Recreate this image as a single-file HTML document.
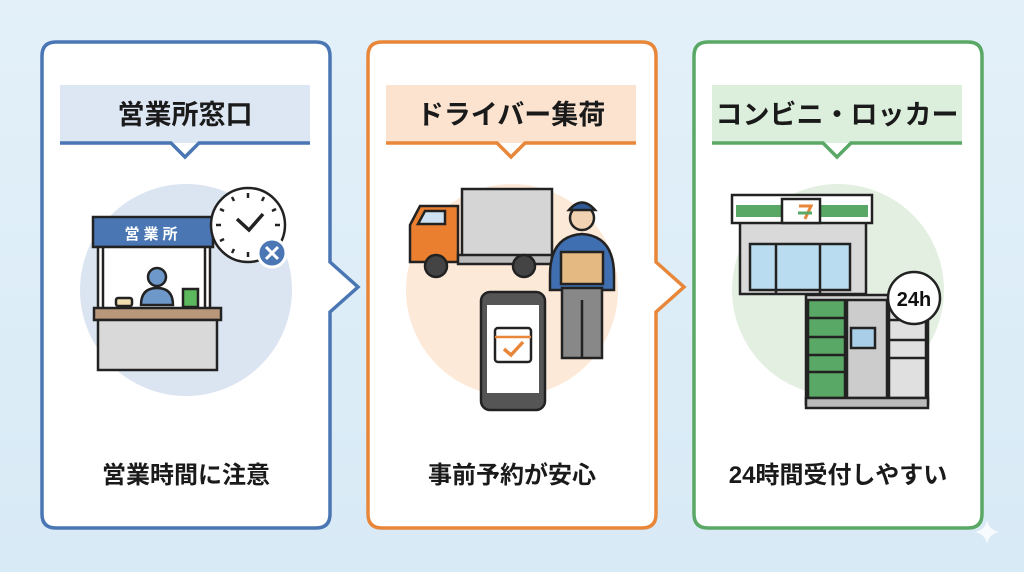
<!DOCTYPE html>
<html><head><meta charset="utf-8"><style>
html,body{margin:0;padding:0;width:1024px;height:572px;overflow:hidden;background:linear-gradient(180deg,#e3f0f9,#d8eaf6);}
svg text{font-family:"Liberation Sans","Noto Sans CJK JP",sans-serif;font-weight:bold;}
</style></head><body>
<svg width="1024" height="572" viewBox="0 0 1024 572" xmlns="http://www.w3.org/2000/svg">
<path d="M56 42 H316 Q330 42 330 56 V262 L358 287 L330 312 V514 Q330 528 316 528 H56 Q42 528 42 514 V56 Q42 42 56 42 Z" fill="#fff" stroke="#4a77b4" stroke-width="3.5"/>
<path d="M382 42 H642 Q656 42 656 56 V262 L684 287 L656 312 V514 Q656 528 642 528 H382 Q368 528 368 514 V56 Q368 42 382 42 Z" fill="#fff" stroke="#e8873a" stroke-width="3.5"/>
<path d="M708 42 H968 Q982 42 982 56 V514 Q982 528 968 528 H708 Q694 528 694 514 V56 Q694 42 708 42 Z" fill="#fff" stroke="#5aa865" stroke-width="3.5"/>
<circle cx="186" cy="290" r="106" fill="#dbe4f1"/>
<circle cx="512" cy="290" r="106" fill="#fde9d8"/>
<circle cx="838" cy="290" r="106" fill="#e3f0e1"/>
<rect x="60" y="85" width="250" height="58" fill="#dde6f3"/>
<path d="M60 143 H171 L185 157 L199 143 H310" fill="none" stroke="#4a77b4" stroke-width="3.5"/>
<text x="185" y="124" font-size="27" text-anchor="middle" fill="#1a1a1a">営業所窓口</text>
<rect x="386" y="85" width="250" height="58" fill="#fbe3d0"/>
<path d="M386 143 H497 L511 157 L525 143 H636" fill="none" stroke="#e8873a" stroke-width="3.5"/>
<text x="511" y="124" font-size="27" text-anchor="middle" fill="#1a1a1a">ドライバー集荷</text>
<rect x="712" y="85" width="250" height="58" fill="#dcefdc"/>
<path d="M712 143 H823 L837 157 L851 143 H962" fill="none" stroke="#5aa865" stroke-width="3.5"/>
<text x="837" y="124" font-size="27" text-anchor="middle" fill="#1a1a1a">コンビニ・ロッカー</text>
<text x="186" y="483" font-size="24" text-anchor="middle" fill="#1a1a1a">営業時間に注意</text>
<text x="512" y="483" font-size="24" text-anchor="middle" fill="#1a1a1a">事前予約が安心</text>
<text x="838" y="483" font-size="24" text-anchor="middle" fill="#1a1a1a">24時間受付しやすい</text>

<g stroke="#222" stroke-width="2.5">
<rect x="93" y="217" width="120" height="30" fill="#4a77b4"/>
<rect x="98" y="247" width="112" height="62" fill="#fff"/>
<line x1="103" y1="247" x2="103" y2="309"/><line x1="205" y1="247" x2="205" y2="309"/>
<circle cx="157" cy="277" r="9" fill="#6d98c9"/>
<path d="M141 305 Q141 288 157 288 Q173 288 173 305 Z" fill="#6d98c9"/>
<rect x="116" y="298" width="16" height="8" rx="2" fill="#f1ddb0"/>
<rect x="183" y="289" width="15" height="18" fill="#5cb85c"/>
<rect x="94" y="308" width="127" height="12" fill="#b8977a"/>
<rect x="98" y="320" width="119" height="50" fill="#d9d9d9"/>
<circle cx="248" cy="225" r="37" fill="#fff"/>
<polyline points="237,219 249,230 263,214" fill="none" stroke-width="3.5"/>
</g>
<g stroke="#222" stroke-width="2.5">
<line x1="248" y1="193" x2="248" y2="198"/><line x1="248" y1="252" x2="248" y2="257"/>
<line x1="216" y1="225" x2="221" y2="225"/><line x1="275" y1="225" x2="280" y2="225"/>
<line x1="232" y1="197" x2="234" y2="201"/><line x1="264" y1="197" x2="262" y2="201"/>
<line x1="220" y1="209" x2="224" y2="211"/><line x1="276" y1="209" x2="272" y2="211"/>
<line x1="220" y1="241" x2="224" y2="239"/><line x1="232" y1="253" x2="234" y2="249"/>
</g>
<circle cx="272" cy="253" r="14" fill="#4a77b4" stroke="#fff" stroke-width="3"/>
<text x="153" y="239" font-size="15" text-anchor="middle" fill="#fff" letter-spacing="4">営業所</text>
<path d="M266 247 L278 259 M278 247 L266 259" stroke="#fff" stroke-width="3"/>

<g stroke="#222" stroke-width="2.5">
<rect x="462" y="189" width="90" height="68" fill="#d5d5d5"/>
<path d="M410 225 L420 206 H458 V262 H410 Z" fill="#e97f2f"/>
<path d="M418 224 L425 211 H445 V224 Z" fill="#cfe2f3"/>
<rect x="458" y="255" width="94" height="9" fill="#bbb"/>
<circle cx="436" cy="266" r="11" fill="#444"/><circle cx="524" cy="266" r="11" fill="#444"/>
<circle cx="582" cy="218" r="12" fill="#f1d3b3"/>
<path d="M569 210 Q582 195 595 210 Z" fill="#2f5a96"/>
<path d="M550 275 Q550 236 582 234 Q614 236 614 275 V290 H550 Z" fill="#3f6fb0"/>
<rect x="562" y="288" width="40" height="70" fill="#888"/>
<line x1="582" y1="300" x2="582" y2="358"/>
<rect x="561" y="252" width="42" height="32" fill="#e5b982"/>
<rect x="481" y="292" width="64" height="118" rx="9" fill="#555"/>
<rect x="487" y="305" width="52" height="88" fill="#fff" stroke="none"/>
<rect x="495" y="328" width="36" height="34" rx="3" fill="#fff"/>
<line x1="495" y1="337" x2="531" y2="337" stroke="#e8873a"/>
</g>
<polyline points="504,349 511,355 523,342" fill="none" stroke="#e8873a" stroke-width="3.5"/>

<g stroke="#222" stroke-width="2.5">
<rect x="740" y="218" width="126" height="76" fill="#d9d9d9"/>
<rect x="750" y="244" width="100" height="46" fill="#b9dcf0"/>
<line x1="776" y1="244" x2="776" y2="294"/><line x1="820" y1="244" x2="820" y2="294"/>
<rect x="732" y="195" width="140" height="28" fill="#fff"/>
<rect x="736" y="205" width="46" height="12" fill="#5aa865" stroke="none"/>
<rect x="821" y="205" width="47" height="12" fill="#5aa865" stroke="none"/>
<rect x="782" y="199" width="38" height="24" fill="#fff"/>
<rect x="806" y="295" width="122" height="109" fill="#d4d4d4"/>
<rect x="808" y="300" width="37" height="98" fill="#5aa865"/>
<line x1="808" y1="318" x2="845" y2="318"/><line x1="808" y1="337" x2="845" y2="337"/><line x1="808" y1="355" x2="845" y2="355"/><line x1="808" y1="372" x2="845" y2="372"/>
<rect x="847" y="300" width="40" height="98" fill="#ccc"/>
<rect x="851" y="328" width="24" height="20" fill="#a9cfe8"/>
<rect x="889" y="300" width="37" height="98" fill="#e0e0e0"/>
<line x1="889" y1="320" x2="926" y2="320"/><line x1="889" y1="340" x2="926" y2="340"/><line x1="889" y1="358" x2="926" y2="358"/>
<rect x="806" y="398" width="122" height="10" fill="#bbb"/>
<circle cx="914" cy="298" r="26" fill="#fff"/>
</g>
<path d="M799 206 H811 L805 219" fill="none" stroke="#e8873a" stroke-width="3"/>
<line x1="798" y1="213" x2="812" y2="213" stroke="#5aa865" stroke-width="3"/>
<text x="914" y="306" font-size="20" text-anchor="middle" fill="#111">24h</text>
<path d="M987 520 Q989 530 999 532 Q989 534 987 544 Q985 534 975 532 Q985 530 987 520 Z" fill="#fff" opacity="0.8"/>
</svg>
</body></html>
